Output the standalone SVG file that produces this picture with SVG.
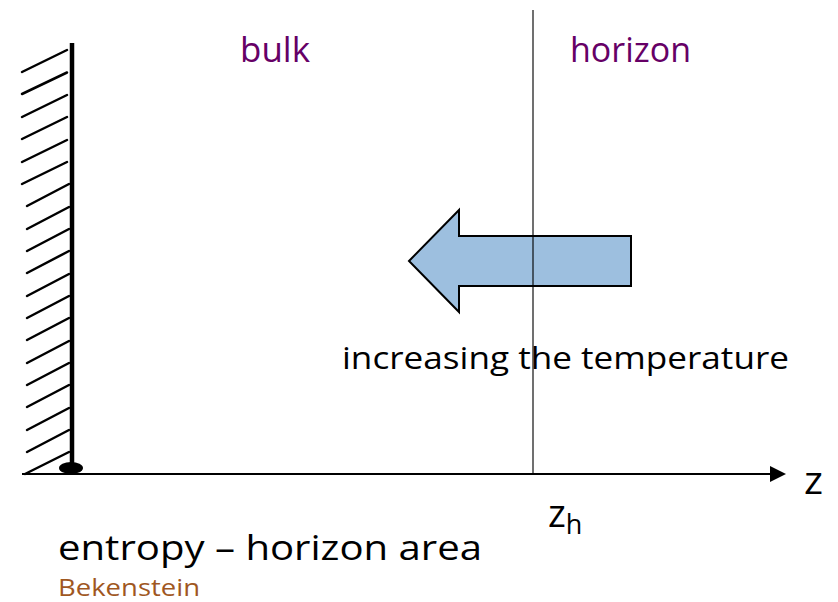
<svg xmlns="http://www.w3.org/2000/svg" width="838" height="602" viewBox="0 0 838 602">
<style>
.t{font-family:"Open Sans",Lato,"Liberation Sans",sans-serif}
.p{fill:#660066;font-size:34px}
.h{stroke:#000;stroke-width:2.5;stroke-linecap:round}
</style>
<rect width="838" height="602" fill="#fff"/>
<g id="wall">
<g class="h">
<line x1="22" y1="72" x2="67" y2="50"/>
<line x1="22" y1="94" x2="67" y2="72.5"/>
<line x1="22" y1="117" x2="67" y2="95"/>
<line x1="22" y1="139" x2="67" y2="117"/>
<line x1="22" y1="162" x2="67" y2="140"/>
<line x1="22" y1="184" x2="67" y2="162"/>
<line x1="27" y1="206" x2="69" y2="184"/>
<line x1="27" y1="229" x2="69" y2="207"/>
<line x1="27" y1="251" x2="69" y2="229"/>
<line x1="27" y1="273" x2="69" y2="251"/>
<line x1="27" y1="296" x2="69" y2="274"/>
<line x1="27" y1="318" x2="69" y2="296"/>
<line x1="27" y1="340" x2="69" y2="318"/>
<line x1="27" y1="363" x2="69" y2="341"/>
<line x1="27" y1="385" x2="69" y2="363"/>
<line x1="27" y1="407" x2="69" y2="385"/>
<line x1="27" y1="430" x2="69" y2="408"/>
<line x1="27" y1="452" x2="69" y2="430"/>
<line x1="25" y1="474" x2="69" y2="452"/>
</g>
<line x1="72" y1="43" x2="72" y2="470" stroke="#000" stroke-width="4.5"/>
<ellipse cx="71" cy="468" rx="12" ry="6" fill="#000"/>
</g>
<g id="arrow">
<polygon points="409,261 459,210 459,236 631,236 631,286 459,286 459,312" fill="#9dbfdf" stroke="#000" stroke-width="2"/>
</g>
<g id="connectors">
<line x1="533" y1="10" x2="533" y2="474" stroke="#000" stroke-width="1.5" stroke-opacity="0.75"/>
<line x1="22" y1="474" x2="772" y2="474" stroke="#000" stroke-width="2"/>
<polygon points="770,466 786,474 770,482" fill="#000"/>
</g>
<g id="labels" class="t">
<text x="240" y="62" class="t p" textLength="70" lengthAdjust="spacingAndGlyphs">bulk</text>
<text x="570" y="62" class="t p" textLength="121" lengthAdjust="spacingAndGlyphs">horizon</text>
<text x="342" y="369" font-size="31" fill="#000" textLength="447" lengthAdjust="spacingAndGlyphs">increasing the temperature</text>
<text x="804" y="494" font-size="38" fill="#000" textLength="19" lengthAdjust="spacingAndGlyphs">z</text>
<text x="548" y="527" font-size="38" fill="#000">z<tspan font-size="27" dy="7">h</tspan></text>
<text x="58" y="560" font-size="34" fill="#000" textLength="424" lengthAdjust="spacingAndGlyphs">entropy – horizon area</text>
<text x="58" y="596" font-size="23" fill="#a0571f" textLength="142" lengthAdjust="spacingAndGlyphs">Bekenstein</text>
</g>
</svg>
